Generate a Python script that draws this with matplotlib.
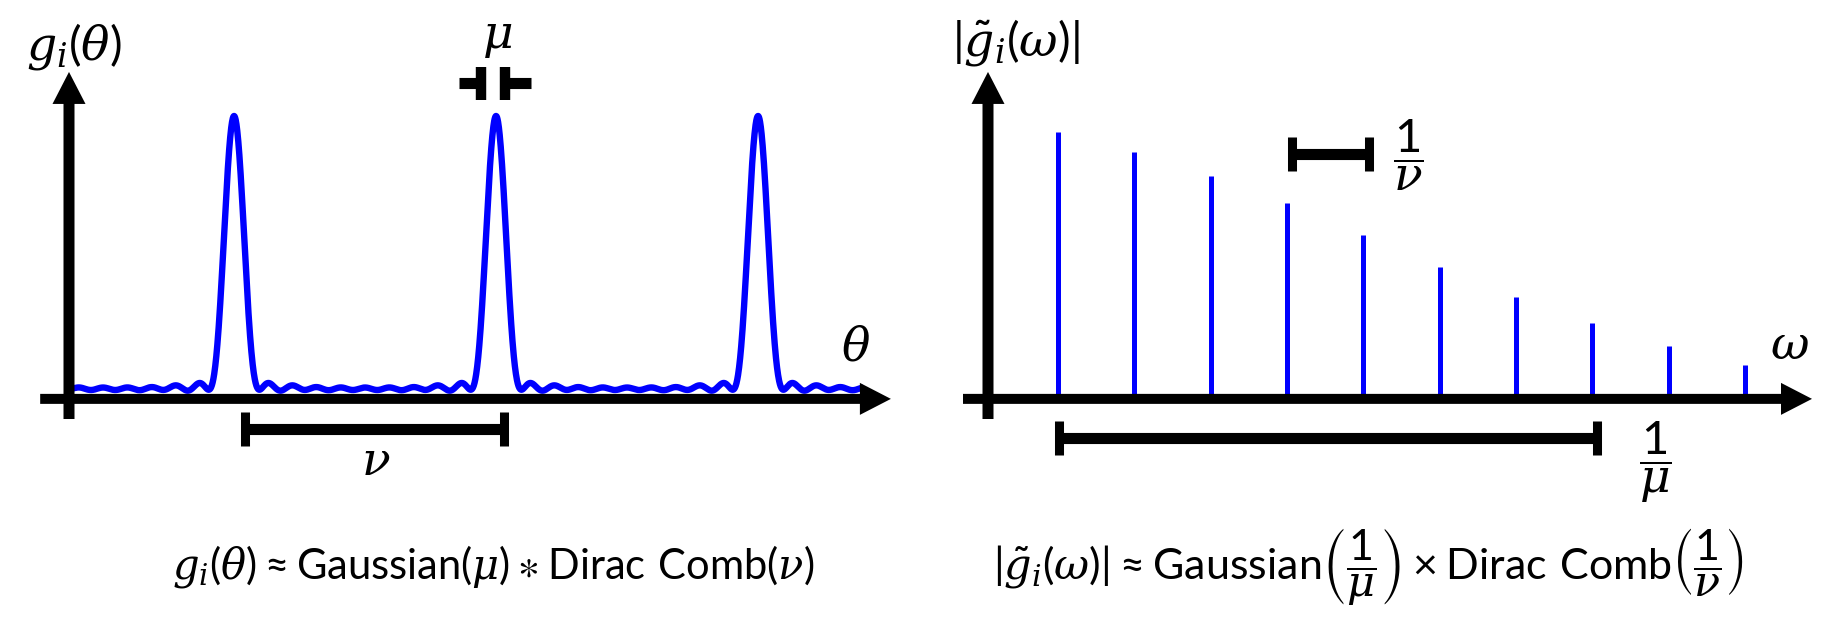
import numpy as np
import matplotlib.pyplot as plt

plt.rcParams['mathtext.fontset'] = 'custom'
plt.rcParams['mathtext.rm'] = 'Lato'
plt.rcParams['mathtext.it'] = 'DejaVu Serif:italic'
plt.rcParams['mathtext.bf'] = 'Lato:bold'
plt.rcParams['mathtext.fallback'] = 'stix'

# right panel: Fourier magnitudes at the harmonics of the comb
harmonics = [1, 2, 3, 4, 5, 6, 7, 8, 9, 10]
stem_heights = [0.942, 0.869, 0.781, 0.680, 0.563, 0.444, 0.336, 0.240, 0.156, 0.084]

# left panel: peak locations (period nu = 1)
peak_positions = [0.63, 1.63, 2.63]
theta_range = [0.025, 3.02]

blue = '#0000ff'
px_y = 272.0     # pixels per y unit (both panels)
px_th = 262.0    # pixels per theta unit
px_om = 76.3     # pixels per omega unit
axis_y = -0.04
om_axis = 0.08
fs_lab = 34
fs_eq = 30

fig = plt.figure(figsize=(18.38, 6.32), dpi=100)
axl = fig.add_axes([0, 0, 0.5, 1])
axr = fig.add_axes([0.5, 0, 0.5, 1])
for ax in (axl, axr):
    ax.set_axis_off()
    ax.set_ylim(-244 / px_y, 388 / px_y)
axl.set_xlim(-69 / px_th, 850 / px_th)
axr.set_xlim(om_axis - 69 / px_om, om_axis + 850 / px_om)


def arrow(ax, x0, y0, x1, y1, w, hw, hl):
    ax.arrow(x0, y0, x1 - x0, y1 - y0, width=w, head_width=hw, head_length=hl,
             length_includes_head=True, color='black', lw=0, zorder=3)


def bar(ax, x0, x1, y, th, lw=8, tlw=6.5):
    ax.plot([x0, x1], [y, y], color='black', lw=lw, solid_capstyle='butt')
    for x in (x0, x1):
        ax.plot([x, x], [y - th, y + th], color='black', lw=tlw, solid_capstyle='butt')


# ---- left: g_i(theta) rebuilt from the stems ----
theta = np.linspace(theta_range[0], theta_range[1], 3000)
g = np.full_like(theta, stem_heights[0])
for k, a in zip(harmonics, stem_heights):
    g += 2 * a * np.cos(2 * np.pi * k * (theta - peak_positions[0]))
g = g / g.max()
axl.plot(theta, g, color=blue, lw=4.6, zorder=2)

arrow(axl, -0.11, axis_y, 3.137, axis_y, 10 / px_y, 32 / px_y, 31 / px_th)
arrow(axl, 0, -0.114, 0, 1.162, 11 / px_th, 33 / px_th, 32 / px_y)

bar(axl, peak_positions[0] + 0.043, peak_positions[1] + 0.032, -0.151, 0.062)
axl.text(1.17, -0.275, r'$\nu$', fontsize=fs_lab, ha='center', va='center')

# mu marker
axl.plot([1.489, 1.573], [1.121, 1.121], color='black', lw=8, solid_capstyle='butt')
axl.plot([1.664, 1.763], [1.121, 1.121], color='black', lw=8, solid_capstyle='butt')
for x in (1.573, 1.664):
    axl.plot([x, x], [1.059, 1.180], color='black', lw=7.5, solid_capstyle='butt')
axl.text(1.634, 1.29, r'$\mu$', fontsize=fs_lab, ha='center', va='center')

axl.text(0.02, 1.255, r'$g_i(\theta)$', fontsize=fs_lab, ha='center', va='center')
axl.text(3.004, 0.147, r'$\theta$', fontsize=fs_lab, ha='center', va='center')
axl.text(1.62, -0.655,
         r'$g_i(\theta)\approx\mathrm{Gaussian}(\mu)\ast\mathrm{Dirac\ Comb}(\nu)$',
         fontsize=fs_eq, ha='center', va='center')

# ---- right: |g~_i(omega)| ----
axr.vlines(harmonics, axis_y, stem_heights, color=blue, lw=3.6, zorder=2)

arrow(axr, om_axis - 25 / px_om, axis_y, om_axis + 824 / px_om, axis_y,
      10 / px_y, 32 / px_y, 31 / px_om)
arrow(axr, om_axis, -0.114, om_axis, 1.162, 11 / px_om, 33 / px_om, 32 / px_y)

bar(axr, harmonics[3] + 0.07, harmonics[4] + 0.07, 0.860, 0.061)
axr.text(5.585, 0.857, r'$\dfrac{1}{\nu}$', fontsize=fs_lab, ha='center', va='center')

bar(axr, harmonics[0] + 0.004, harmonics[7] + 0.06, -0.184, 0.061)
axr.text(8.82, -0.272, r'$\dfrac{1}{\mu}$', fontsize=fs_lab, ha='center', va='center')

axr.text(0.45, 1.27, r'$|\tilde{g}_i(\omega)|$', fontsize=fs_lab, ha='center', va='center')
axr.text(10.59, 0.151, r'$\omega$', fontsize=fs_lab, ha='center', va='center')
axr.text(5.06, -0.655,
         r'$|\tilde{g}_i(\omega)|\approx\mathrm{Gaussian}\left(\dfrac{1}{\mu}\right)'
         r'\times\mathrm{Dirac\ Comb}\left(\dfrac{1}{\nu}\right)$',
         fontsize=fs_eq + 1, ha='center', va='center')

fig.savefig('out.png', dpi=100)
